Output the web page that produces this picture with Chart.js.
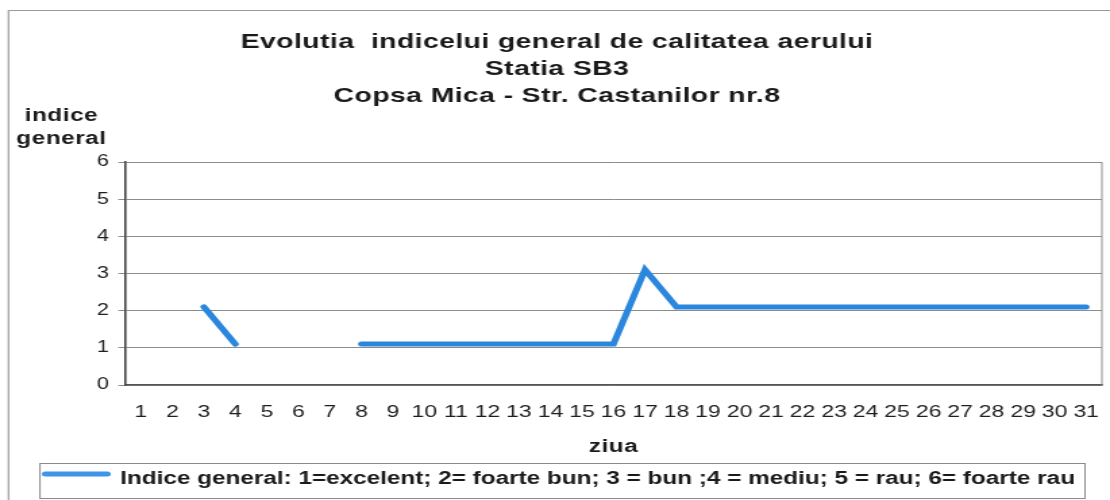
<!DOCTYPE html>
<html>
<head>
<meta charset="utf-8">
<script src="https://cdn.jsdelivr.net/npm/chart.js@4"></script>
<style>
html,body{margin:0;padding:0;background:#fff;overflow:hidden;}
#wrap{position:absolute;left:0;top:0;width:822px;height:500px;transform:scaleX(1.35036);transform-origin:0 0;}
</style>
</head>
<body>
<div id="wrap"><canvas id="c" width="822" height="500"></canvas></div>
<script>
// ---- data ----
const days = ['1','2','3','4','5','6','7','8','9','10','11','12','13','14','15','16','17','18','19','20','21','22','23','24','25','26','27','28','29','30','31'];
const indiceGeneral = [null,null,2.1,1.1,null,null,null,1.1,1.1,1.1,1.1,1.1,1.1,1.1,1.1,1.1,3.1,2.1,2.1,2.1,2.1,2.1,2.1,2.1,2.1,2.1,2.1,2.1,2.1,2.1,2.1];
const yTicks = [0,1,2,3,4,5,6];
const titleLines = ['Evolutia  indicelui general de calitatea aerului','Statia SB3','Copsa Mica - Str. Castanilor nr.8'];
const yAxisLabel = ['indice','general'];
const xAxisLabel = 'ziua';
const seriesLabel = 'Indice general: 1=excelent; 2= foarte bun; 3 = bun ;4 = mediu; 5 = rau; 6= foarte rau';

const FONT = '"Liberation Sans", Arial, sans-serif';
const LINE_COLOR = '#2b86dd';

const decor = {
  id:'decor',
  afterDraw(chart){
    const ctx = chart.ctx;
    const a = chart.chartArea;
    ctx.save();
    // outer frame
    ctx.strokeStyle = '#9a9a9a';
    ctx.lineWidth = 1.2;
    ctx.beginPath();
    ctx.moveTo(6.3, 500);
    ctx.lineTo(6.3, 10.5);
    ctx.lineTo(822, 10.5);
    ctx.stroke();
    // plot right border
    ctx.strokeStyle = '#8a8a8a';
    ctx.lineWidth = 1;
    ctx.beginPath();
    ctx.moveTo(a.right, a.top);
    ctx.lineTo(a.right, a.bottom);
    ctx.stroke();
    // title
    ctx.fillStyle = '#1a1a1a';
    ctx.textBaseline = 'middle';
    ctx.textAlign = 'center';
    ctx.font = 'bold 21px '+FONT;
    ctx.letterSpacing = '0.3px';
    const tY = [42, 69, 96];
    titleLines.forEach((t,i)=>ctx.fillText(t, 412.5, tY[i]));
    // y axis label
    ctx.font = 'bold 18px '+FONT;
    ctx.letterSpacing = '0.4px';
    ctx.fillText(yAxisLabel[0], 45.5, 116);
    ctx.fillText(yAxisLabel[1], 45.5, 139);
    // x axis label
    ctx.fillText(xAxisLabel, (a.left+a.right)/2, 447);
    ctx.letterSpacing = '0px';
    // legend box
    ctx.strokeStyle = '#8a8a8a';
    ctx.lineWidth = 1;
    ctx.strokeRect(29.6, 463.5, 773.9, 35);
    ctx.strokeStyle = '#3c95e6';
    ctx.lineWidth = 5;
    ctx.lineCap = 'round';
    ctx.beginPath();
    ctx.moveTo(33.5, 474);
    ctx.lineTo(79.5, 474);
    ctx.stroke();
    ctx.fillStyle = '#1a1a1a';
    ctx.textAlign = 'left';
    ctx.font = 'bold 18px '+FONT;
    ctx.fillText(chart.data.datasets[0].label, 88.9, 479);
    ctx.restore();
  }
};

new Chart(document.getElementById('c'), {
  type:'line',
  data:{
    labels: days,
    datasets:[{
      label: seriesLabel,
      data: indiceGeneral,
      borderColor: LINE_COLOR,
      backgroundColor: LINE_COLOR,
      borderWidth: 5,
      pointRadius: 0,
      pointHoverRadius: 0,
      tension: 0,
      spanGaps: false,
      borderJoinStyle: 'miter',
      borderCapStyle: 'round'
    }]
  },
  options:{
    responsive:false,
    animation:false,
    devicePixelRatio:1,
    layout:{padding:{left:0,right:6,top:162,bottom:0}},
    plugins:{legend:{display:false},title:{display:false},tooltip:{enabled:false}},
    scales:{
      x:{
        offset:true,
        grid:{display:false, drawTicks:false},
        border:{display:true,color:'#555',width:1.5},
        ticks:{font:{family:FONT,size:17},color:'#1e1e1e',padding:17,maxRotation:0,autoSkip:false},
        afterFit(s){ s.height = 115; s.paddingLeft = 0; s.paddingRight = 0; }
      },
      y:{
        min:0,max:6,
        afterBuildTicks(s){ s.ticks = yTicks.map(v=>({value:v})); },
        grid:{color:'#8c8c8c',lineWidth:1,tickLength:5,tickColor:'#8c8c8c'},
        border:{display:true,color:'#444',width:1.6},
        ticks:{font:{family:FONT,size:16},color:'#1e1e1e',padding:7},
        afterFit(s){ s.width = 92.6; }
      }
    }
  },
  plugins:[decor]
});
</script>
</body>
</html>
